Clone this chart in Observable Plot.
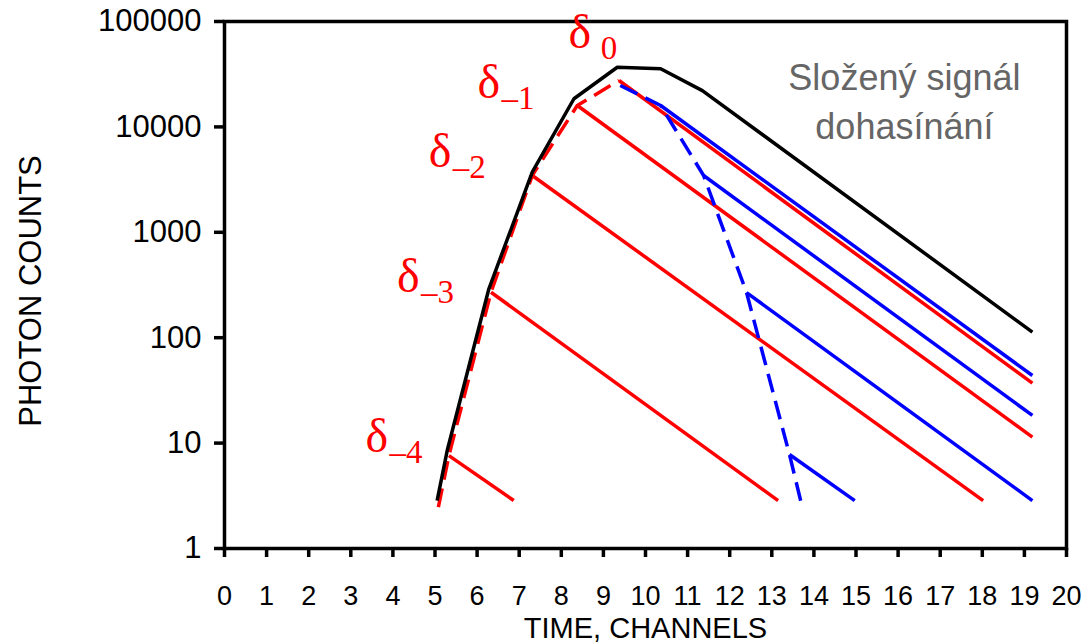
<!DOCTYPE html>
<html><head><meta charset="utf-8">
<script src="https://cdn.jsdelivr.net/npm/d3@7"></script>
<script src="https://cdn.jsdelivr.net/npm/@observablehq/plot@0.6"></script>
<style>body{margin:0;background:#fff;overflow:hidden}</style>
</head><body>
<script>
// axis ticks
const xTicks = d3.range(0, 21);
const yTicks = [1, 10, 100, 1000, 10000, 100000];

// composite decay signal (black)
const sumX = [5.05, 5.29, 6.28, 7.31, 8.30, 9.33, 10.36, 11.35, 19.19];
const sumY = [2.85, 8.5, 291, 3720, 18500, 36800, 35600, 22100, 113];
// excitation pulse envelope (red dashed)
const pulseX = [5.08, 5.33, 6.33, 7.31, 8.38, 9.37];
const pulseY = [2.47, 7.6, 270, 3460, 15960, 27550];
// mirrored pulse envelope (blue dashed)
const mirrorX = [9.40, 10.36, 11.38, 12.40, 13.42, 13.73];
const mirrorY = [24700, 15960, 3460, 268, 7.8, 2.4];
// red impulse responses (start -> end)
const redX1 = [9.37, 8.38, 7.31, 6.33, 5.33];
const redY1 = [27550, 15960, 3460, 270, 7.6];
const redX2 = [19.19, 19.19, 18.02, 13.15, 6.87];
const redY2 = [37, 11.4, 2.85, 2.85, 2.85];
// blue responses (start -> end)
const blueX1 = [10.36, 11.38, 12.40, 13.42];
const blueY1 = [15960, 3460, 268, 7.8];
const blueX2 = [19.19, 19.19, 19.19, 14.97];
const blueY2 = [43.8, 18.3, 2.85, 2.85];
// delta labels
const deltaSubs = ["\u00a00", "\u20131", "\u20132", "\u20133", "\u20134"];
const deltaX = [8.17, 6.01, 4.85, 4.10, 3.35];
const deltaY = [56600, 19000, 4150, 270, 8.2];
// note
const noteLines = ["Složený signál", "dohasínání"];
const noteX = [16.15, 16.15];
const noteY = [22600, 7760];

const segs = (x1, y1, x2, y2) => x1.map((d, i) => ({x1: d, y1: y1[i], x2: x2[i], y2: y2[i]}));
const pts = (xs, ys) => xs.map((x, i) => ({x, y: ys[i]}));
const serif = "'Liberation Serif', 'Times New Roman', serif";
const lineStyle = {strokeWidth: 3.5, strokeLinecap: "butt", strokeLinejoin: "miter"};

const chart = Plot.plot({
  width: 1089, height: 644,
  marginLeft: 224, marginRight: 23, marginTop: 21, marginBottom: 96,
  style: {fontFamily: "'Liberation Sans', Arial, sans-serif", background: "#fff", color: "#000"},
  x: {domain: [0, 20]},
  y: {type: "log", domain: [1, 100000]},
  marks: [
    Plot.link(segs(redX1, redY1, redX2, redY2), {x1: "x1", y1: "y1", x2: "x2", y2: "y2", stroke: "#ff0000", ...lineStyle}),
    Plot.link(segs(blueX1, blueY1, blueX2, blueY2), {x1: "x1", y1: "y1", x2: "x2", y2: "y2", stroke: "#0000ff", ...lineStyle}),
    Plot.line(pts(mirrorX, mirrorY), {x: "x", y: "y", stroke: "#0000ff", strokeDasharray: "19,9", ...lineStyle}),
    Plot.line(pts(pulseX, pulseY), {x: "x", y: "y", stroke: "#ff0000", strokeDasharray: "19,9", ...lineStyle}),
    Plot.line(pts(sumX, sumY), {x: "x", y: "y", stroke: "#000", ...lineStyle}),
    Plot.frame({strokeWidth: 3.5}),
    Plot.axisX({ticks: xTicks, tickSize: 9, tickPadding: 28, strokeWidth: 3.5, fontSize: 27, label: null, tickFormat: d => String(d)}),
    Plot.axisY({ticks: yTicks, tickSize: 10, tickPadding: 13, strokeWidth: 3.5, fontSize: 31, label: null, tickFormat: d3.format("d")}),
    Plot.text(["TIME, CHANNELS"], {frameAnchor: "bottom", text: d => d, textAnchor: "middle", lineAnchor: "bottom", dy: 89, fontSize: 29}),
    Plot.text(["PHOTON COUNTS"], {frameAnchor: "left", text: d => d, rotate: -90, textAnchor: "middle", lineAnchor: "bottom", dx: -184, dy: 6, fontSize: 31}),
    Plot.text(noteLines, {x: (d, i) => noteX[i], y: (d, i) => noteY[i], text: d => d, fill: "#666", fontSize: 36, textAnchor: "middle", lineAnchor: "bottom"}),
    Plot.text(deltaSubs, {x: (d, i) => deltaX[i], y: (d, i) => deltaY[i], text: () => "δ", fill: "#ff0000", fontSize: 48, fontFamily: serif, textAnchor: "start", lineAnchor: "bottom"}),
    Plot.text(deltaSubs, {x: (d, i) => deltaX[i], y: (d, i) => deltaY[i], text: d => d, fill: "#ff0000", fontSize: 33, fontFamily: serif, textAnchor: "start", lineAnchor: "bottom", dx: 24, dy: 11})
  ]
});
document.body.appendChild(chart);
</script>
</body></html>
